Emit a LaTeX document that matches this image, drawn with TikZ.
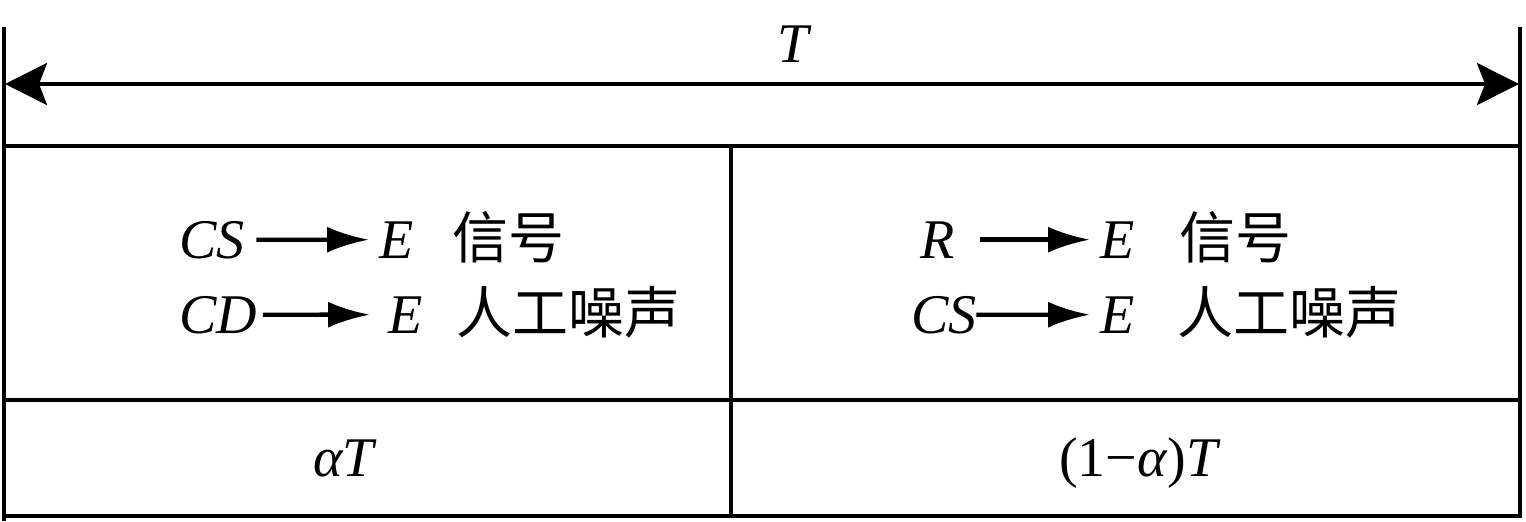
\documentclass[tikz,border=0pt]{standalone}
\usepackage{fontspec}
\setmainfont{Liberation Serif}
\newfontfamily\cjk{Noto Sans CJK SC}
\usetikzlibrary{arrows.meta, positioning}
\tikzset{
  rule/.style={line width=2pt},
  txt/.style={anchor=base west, inner sep=0pt, outer sep=3pt, font=\fontsize{28pt}{32pt}\selectfont},
  flow/.style={line width=2.2pt, shorten <=3pt, shorten >=2pt, -{Latex[length=21pt, width=13pt]}}
}
\begin{document}
\begin{tikzpicture}[x=0.5pt, y=-0.5pt]
\useasboundingbox (0,0) rectangle (1526,521);
% frame
\draw[rule] (4,27) -- (4,521);
\draw[rule] (1520,27) -- (1520,518);
\draw[rule] (4,146) -- (1520,146);
\draw[rule] (4,400) -- (1520,400);
\draw[rule] (4,516) -- (1520,516);
\draw[rule] (731,146) -- (731,516);
% period
\coordinate (tl) at (5,84);
\coordinate (tr) at (1519,84);
\draw[rule, {Stealth[length=21pt, width=21pt, inset=4pt]}-{Stealth[length=21pt, width=21pt, inset=4pt]}] (tl) -- (tr);
\node[txt, anchor=base] (tT) at (795,62) {\textit{T}};
% first phase
\node[txt] (cs1) at (173,258) {\textit{CS}};
\node[txt] (e1) at (373,258) {\textit{E}};
\node[txt] (sig1) at (446,258) {\cjk 信号};
\node[txt] (cd2) at (173,333) {\textit{CD}};
\node[txt] (e2) at (382,333) {\textit{E}};
\node[txt] (an2) at (450,333) {\cjk 人工噪声};
\draw[flow] (cs1) -- (e1);
\draw[flow, shorten <=0pt, shorten >=6pt] (cd2) -- (e2);
% second phase
\node[txt] (r3) at (914,258) {\textit{R}};
\node[txt] (e3) at (1094,258) {\textit{E}};
\node[txt] (sig3) at (1173,258) {\cjk 信号};
\node[txt] (cs4) at (905,333) {\textit{CS}};
\node[txt] (e4) at (1094,333) {\textit{E}};
\node[txt] (an4) at (1171,333) {\cjk 人工噪声};
\draw[flow, shorten <=10pt] (r3) -- (e3);
\draw[flow, shorten <=-3pt] (cs4) -- (e4);
% durations
\node[txt, anchor=base] (tA) at (345,476) {\textit{αT}};
\node[txt, anchor=base] (tB) at (1140,476) {(1−\textit{α})\textit{T}};
\end{tikzpicture}
\end{document}
